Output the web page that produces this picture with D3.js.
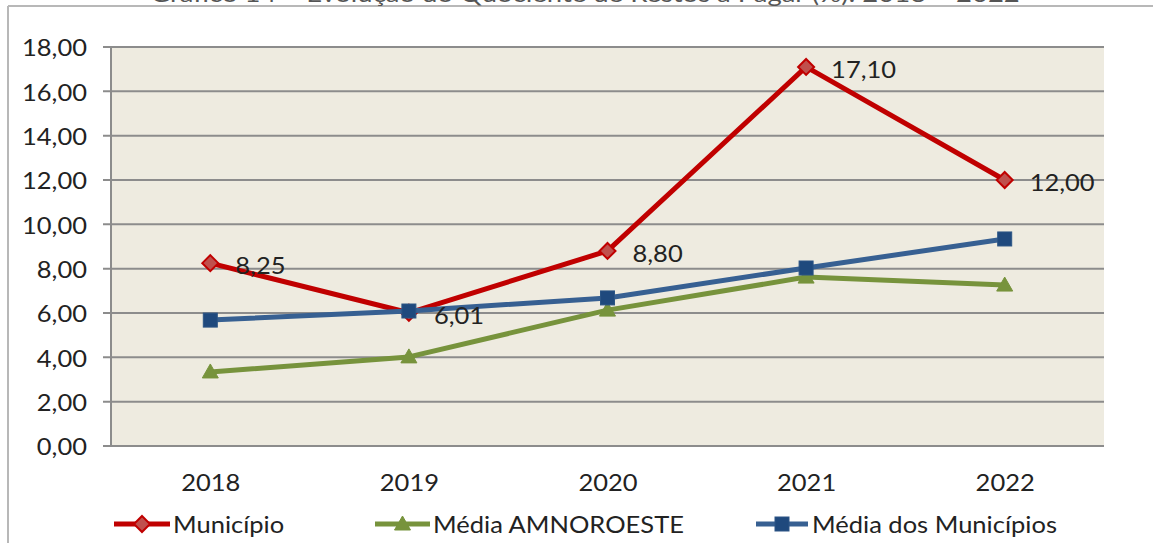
<!DOCTYPE html>
<html><head><meta charset="utf-8">
<script src="https://cdn.jsdelivr.net/npm/d3@7"></script>
<style>html,body{margin:0;padding:0;background:#fff;}svg{display:block;}</style>
</head><body>
<script>
const categories = ["2018","2019","2020","2021","2022"];
const municipio = [8.25, 6.01, 8.80, 17.10, 12.00];
const amnoroeste = [3.34, 4.02, 6.13, 7.62, 7.26];
const mediaMunicipios = [5.68, 6.09, 6.68, 8.03, 9.34];
const yTicks = [0,2,4,6,8,10,12,14,16,18];
const seriesNames = ["Município","Média AMNOROESTE","Média dos Municípios"];
const titleText = "Gráfico 14 – Evolução do Quociente de Restos a Pagar (%): 2018 – 2022";

const W = 1153, H = 543;
const plot = {left:111, right:1104, top:47, bottom:446};
const FONT = "Lato, 'Open Sans', sans-serif";
const FS = 22.5;

const svg = d3.select("body").append("svg").attr("width", W).attr("height", H);
const fmt = v => v.toFixed(2).replace(".", ",");

const x = d3.scalePoint().domain(categories).range([plot.left, plot.right]).padding(0.5);
const y = d3.scaleLinear().domain([0,18]).range([plot.bottom, plot.top]);

// frame
svg.append("line").attr("x1",8).attr("x2",W).attr("y1",6).attr("y2",6).attr("stroke","#b8b8b8").attr("stroke-width",2);
svg.append("line").attr("x1",8).attr("x2",8).attr("y1",6).attr("y2",H).attr("stroke","#b8b8b8").attr("stroke-width",2);

// plot background
svg.append("rect").attr("x",plot.left).attr("y",plot.top).attr("width",plot.right-plot.left).attr("height",plot.bottom-plot.top).attr("fill","#EEEBE0");

// horizontal scale factor so the font matches the reference's narrow face
let SX = 0.95;
const probe = svg.append("text").attr("font-family",FONT).attr("font-size",FS).text("Média dos Municípios");
const nat = probe.node().getComputedTextLength();
if (nat > 0) SX = 245 / nat;
probe.remove();

function txt(g, str, px, py, anchor, opts={}) {
  return g.append("text")
    .attr("transform", `translate(${px},${py}) scale(${opts.sx || SX},1)`)
    .attr("text-anchor", anchor)
    .attr("dominant-baseline", opts.baseline || "central")
    .attr("font-family", FONT)
    .attr("font-size", opts.size || FS)
    .attr("fill", opts.fill || "#222")
    .text(str);
}

// title (cut off at top, as in the reference)
const tProbe = svg.append("text").attr("font-family",FONT).attr("font-size",FS).text(titleText);
const tNat = tProbe.node().getComputedTextLength();
tProbe.remove();
txt(svg, titleText, 585, 2, "middle", {baseline:"alphabetic", fill:"#555", sx: tNat > 0 ? 870 / tNat : SX});

// grid lines
const grid = svg.append("g");
yTicks.forEach(t => {
  grid.append("line").attr("x1",plot.left-8).attr("x2",plot.right).attr("y1",y(t)).attr("y2",y(t))
    .attr("stroke","#8c8c8c").attr("stroke-width",2);
});
// y axis line
svg.append("line").attr("x1",plot.left).attr("x2",plot.left).attr("y1",plot.top).attr("y2",plot.bottom).attr("stroke","#8c8c8c").attr("stroke-width",2);

// y axis labels
const yAxis = d3.axisLeft(y).tickValues(yTicks).tickSize(0).tickFormat(fmt);
const yg = svg.append("g").attr("transform",`translate(${plot.left},0)`).call(yAxis);
yg.select(".domain").remove();
yg.selectAll(".tick text").each(function(){
  d3.select(this).attr("x",null).attr("dy",null)
   .attr("transform",`translate(-24,0) scale(${SX},1)`)
   .attr("dominant-baseline","central")
   .attr("font-family",FONT).attr("font-size",FS).attr("fill","#222");
});

// x axis labels
const xAxis = d3.axisBottom(x).tickSize(0);
const xg = svg.append("g").attr("transform",`translate(0,${plot.bottom})`).call(xAxis);
xg.select(".domain").remove();
xg.selectAll(".tick text").attr("y",null).attr("dy",null)
  .attr("transform",`translate(0,36) scale(${SX},1)`)
  .attr("dominant-baseline","central")
  .attr("font-family",FONT).attr("font-size",FS).attr("fill","#222");

// series
const series = [
  {name:seriesNames[1], values:amnoroeste, line:"#77933C", fill:"#77933C", stroke:"#77933C", marker:"triangle"},
  {name:seriesNames[2], values:mediaMunicipios, line:"#376092", fill:"#1F497D", stroke:"#2C5585", marker:"square"},
  {name:seriesNames[0], values:municipio, line:"#C00000", fill:"#C0504D", stroke:"#C00000", marker:"diamond"},
];

function marker(g, type, cx, cy, s) {
  if (type === "diamond") {
    g.append("path").attr("d",`M${cx},${cy-8}L${cx+8},${cy}L${cx},${cy+8}L${cx-8},${cy}Z`)
      .attr("fill",s.fill).attr("stroke",s.stroke).attr("stroke-width",2);
  } else if (type === "square") {
    g.append("rect").attr("x",cx-7).attr("y",cy-7).attr("width",14).attr("height",14)
      .attr("fill",s.fill).attr("stroke",s.stroke).attr("stroke-width",1);
  } else {
    g.append("path").attr("d",`M${cx},${cy-8}L${cx+8},${cy+6}L${cx-8},${cy+6}Z`)
      .attr("fill",s.fill).attr("stroke",s.stroke).attr("stroke-width",1);
  }
}

const line = d3.line().x((d,i)=>x(categories[i])).y(d=>y(d));
const drawOrder = [series[2], series[0], series[1]];
drawOrder.forEach(s => {
  const g = svg.append("g");
  g.append("path").attr("d", line(s.values)).attr("fill","none").attr("stroke",s.line)
    .attr("stroke-width",5).attr("stroke-linejoin","round");
  s.values.forEach((v,i) => marker(g, s.marker, x(categories[i]), y(v), s));
});
// data labels
const lg = svg.append("g");
municipio.forEach((v,i) => {
  txt(lg, fmt(v), x(categories[i]) + 25, y(v) + 2, "start");
});

// legend
const legend = svg.append("g");
const legendItems = [
  {s:series[2], x1:114, x2:170, tx:173},
  {s:series[0], x1:375, x2:430, tx:433},
  {s:series[1], x1:756, x2:808, tx:812},
];
const ly = 524;
legendItems.forEach(it => {
  legend.append("line").attr("x1",it.x1).attr("x2",it.x2).attr("y1",ly).attr("y2",ly)
    .attr("stroke",it.s.line).attr("stroke-width",5);
  marker(legend, it.s.marker, (it.x1+it.x2)/2, ly, it.s);
  txt(legend, it.s.name, it.tx, ly, "start");
});
</script>
</body></html>
